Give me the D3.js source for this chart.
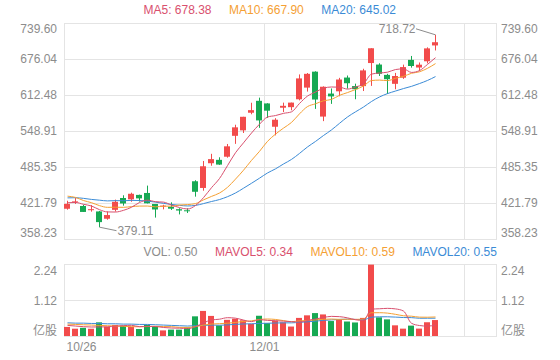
<!DOCTYPE html>
<html><head><meta charset="utf-8">
<script src="https://cdn.jsdelivr.net/npm/d3@7"></script>
<style>
body{margin:0;background:#fff}
svg{display:block}
text{font-family:"Liberation Sans",Arial,"Noto Sans CJK SC",sans-serif;font-size:12px}
</style>
</head><body>
<svg id="chart" width="560" height="360"></svg>
<script>
// ---- data ----
const opens  = [411.63,423.76,416.48,409.96,406.90,394.00,409.73,430.62,428.30,436.10,439.50,420.09,416.45,415.05,410.85,408.93,460.17,448.35,492.00,497.99,503.50,540.40,550.06,581.16,602.21,597.59,556.44,590.02,591.01,604.92,625.51,653.69,574.37,615.01,619.00,643.28,628.23,628.19,668.90,666.24,648.00,632.20,642.99,674.51,661.00,672.00,699.99];
const highs  = [425.76,430.50,418.60,418.06,407.59,406.98,427.77,435.40,440.00,436.57,452.50,420.09,418.70,423.00,412.53,412.45,462.00,496.00,508.61,502.50,526.00,559.99,574.00,598.78,607.80,597.85,571.54,598.97,599.04,648.79,651.28,654.32,627.75,624.00,642.75,646.90,632.50,658.82,695.00,668.50,649.88,651.50,666.09,681.40,669.90,696.60,718.72];
const lows   = [410.00,420.10,406.00,406.46,379.11,392.30,406.69,417.10,424.00,424.28,421.00,396.03,410.58,409.52,401.66,404.09,433.01,443.50,487.57,489.06,501.79,526.20,545.37,578.45,554.51,572.05,541.21,582.43,585.50,603.05,618.50,588.00,566.34,596.80,610.20,623.80,605.00,619.50,628.54,646.07,614.23,622.57,641.00,660.80,655.00,668.36,691.12];
const closes = [420.28,424.68,406.02,410.83,388.04,400.51,423.90,420.98,438.09,429.95,421.26,410.36,417.13,411.76,408.50,408.09,441.61,486.64,499.27,489.61,521.85,555.38,574.00,585.76,567.60,584.76,568.82,593.38,599.04,641.76,649.88,604.48,627.07,609.99,639.83,633.25,622.77,655.90,695.00,649.86,640.34,645.98,661.77,663.69,665.99,694.78,705.67];
const volumes = [0.282,0.227,0.255,0.226,0.425,0.290,0.344,0.321,0.284,0.217,0.348,0.303,0.174,0.199,0.198,0.268,0.612,0.780,0.625,0.329,0.503,0.536,0.489,0.376,0.630,0.401,0.478,0.426,0.294,0.563,0.643,0.713,0.671,0.465,0.520,0.451,0.421,0.563,2.221,0.580,0.517,0.332,0.229,0.323,0.230,0.428,0.496];

const ma5  = [422.26,422.80,419.48,416.49,409.97,406.02,405.86,408.85,414.30,422.69,426.84,424.13,423.36,418.09,413.80,411.17,417.42,431.32,448.82,465.04,487.80,510.55,528.02,545.32,560.92,573.50,576.19,580.06,582.72,597.55,610.58,617.71,624.45,626.64,626.25,622.92,626.58,632.35,649.35,651.36,652.77,657.42,658.59,652.33,655.55,666.44,678.38];
const ma10 = [433.86,431.66,426.14,422.33,417.17,414.14,414.33,414.17,415.40,416.33,416.43,414.99,416.11,416.20,418.24,419.00,420.77,427.34,433.46,439.42,449.48,463.98,479.67,497.07,512.98,530.65,543.37,554.04,564.02,579.24,592.04,596.95,602.26,604.68,611.90,616.75,622.15,628.40,637.99,638.80,637.85,642.00,645.47,650.84,653.46,659.61,667.90];
const ma20 = [430.86,431.14,429.99,428.12,426.77,425.51,426.01,425.79,426.40,426.20,425.14,423.33,421.12,419.26,417.71,416.57,417.55,420.75,424.43,427.88,432.95,439.49,447.89,456.63,465.61,474.83,482.07,490.69,498.74,509.33,520.76,530.47,540.96,550.87,562.44,573.70,582.76,591.22,601.01,609.02,614.94,619.47,623.86,627.76,632.68,638.18,645.02];

const mavol5  = [0.33,0.31,0.29,0.28,0.283,0.285,0.308,0.321,0.333,0.291,0.303,0.295,0.265,0.248,0.244,0.228,0.290,0.411,0.497,0.523,0.570,0.555,0.496,0.447,0.507,0.486,0.475,0.462,0.446,0.432,0.481,0.528,0.577,0.611,0.602,0.564,0.506,0.484,0.835,0.847,0.860,0.843,0.776,0.396,0.326,0.308,0.341];
const mavol10 = [0.37,0.36,0.35,0.34,0.33,0.32,0.31,0.30,0.29,0.287,0.294,0.301,0.293,0.291,0.268,0.266,0.292,0.338,0.372,0.384,0.399,0.422,0.454,0.472,0.515,0.528,0.515,0.479,0.446,0.470,0.484,0.501,0.520,0.528,0.517,0.522,0.517,0.530,0.723,0.725,0.712,0.674,0.630,0.616,0.587,0.584,0.592];
const mavol20 = [0.41,0.40,0.40,0.39,0.39,0.38,0.38,0.37,0.37,0.36,0.36,0.35,0.34,0.33,0.32,0.31,0.32,0.33,0.34,0.335,0.346,0.362,0.374,0.381,0.391,0.397,0.404,0.409,0.409,0.427,0.441,0.462,0.487,0.500,0.516,0.525,0.516,0.505,0.585,0.597,0.598,0.588,0.575,0.572,0.552,0.553,0.554];

const priceTicks = [358.23,421.79,485.35,548.91,612.48,676.04,739.60];
const volTicks = [0,1.12,2.24];
const volTickLabels = ["亿股","1.12","2.24"];
const xTickIdx = [0,25];
const xTickLabels = ["10/26","12/01"];
const xGridIdx = [25,50];
const slotCount = 54;

const mainLegend = ["MA5: 678.38","MA10: 667.90","MA20: 645.02"];
const volLegend = ["VOL: 0.50","MAVOL5: 0.34","MAVOL10: 0.59","MAVOL20: 0.55"];
const highLabel = "718.72", lowLabel = "379.11";

// ---- styles ----
const UP = "#f24b4b", DOWN = "#16a953";
const C5 = "#d9506e", C10 = "#f5a033", C20 = "#3b8bd6";
const GRID = "#e4e4e4", AXT = "#8c8c8c";

const svg = d3.select("#chart");
const L = 64, R = 496;
const x = d3.scaleLinear().domain([0, slotCount]).range([L, R]);
const yP = d3.scaleLinear().domain([358.23, 739.60]).range([239, 23]);
const yV = d3.scaleLinear().domain([0, 2.24]).range([336, 264]);
const idx = d3.range(closes.length);
const cx = i => x(i) + 3.5;

// grids
function panelGrid(yScale, ticks, y0, y1) {
  const g = svg.append("g");
  g.selectAll("line.h").data(ticks).join("line")
    .attr("x1", L).attr("x2", R)
    .attr("y1", d => Math.round(yScale(d)) + 0.5).attr("y2", d => Math.round(yScale(d)) + 0.5)
    .attr("stroke", GRID);
  g.selectAll("line.v").data([0, ...xGridIdx, slotCount]).join("line")
    .attr("x1", d => Math.round(x(d)) + 0.5).attr("x2", d => Math.round(x(d)) + 0.5)
    .attr("y1", y0).attr("y2", y1)
    .attr("stroke", GRID);
}
panelGrid(yP, priceTicks, Math.round(yP(739.60)), Math.round(yP(358.23)) + 1);
panelGrid(yV, volTicks, Math.round(yV(2.24)), Math.round(yV(0)) + 1);

// axes labels
function styleAxis(g, shifts) {
  g.select(".domain").remove();
  g.selectAll("line").remove();
  const n = g.selectAll("text").size();
  g.selectAll("text").attr("fill", AXT).style("font-size", "12px")
    .style("font-family", '"Liberation Sans",Arial,"Noto Sans CJK SC",sans-serif')
    .attr("transform", (d, i) => `translate(0,${shifts(i, n)})`);
}
const pShift = (i, n) => i === 0 ? -6.5 : (i === n - 1 ? 6 : 0);
const vShift = (i, n) => i === 0 ? -5.5 : (i === n - 1 ? 6.5 : 1);

svg.append("g").attr("transform", `translate(${L},0)`)
  .call(d3.axisLeft(yP).tickValues(priceTicks).tickSize(0).tickPadding(7).tickFormat(d3.format(".2f")))
  .call(g => styleAxis(g, pShift));
svg.append("g").attr("transform", `translate(${R},0)`)
  .call(d3.axisRight(yP).tickValues(priceTicks).tickSize(0).tickPadding(5).tickFormat(d3.format(".2f")))
  .call(g => styleAxis(g, pShift));
svg.append("g").attr("transform", `translate(${L},0)`)
  .call(d3.axisLeft(yV).tickValues(volTicks).tickSize(0).tickPadding(7).tickFormat((d, i) => volTickLabels[i]))
  .call(g => styleAxis(g, vShift));
svg.append("g").attr("transform", `translate(${R},0)`)
  .call(d3.axisRight(yV).tickValues(volTicks).tickSize(0).tickPadding(5).tickFormat((d, i) => volTickLabels[i]))
  .call(g => styleAxis(g, vShift));

const xa = svg.append("g").attr("transform", `translate(0,336)`)
  .call(d3.axisBottom(x).tickValues(xTickIdx).tickSize(0).tickPadding(6.5).tickFormat((d, i) => xTickLabels[i]));
xa.select(".domain").remove();
xa.selectAll("text").attr("fill", AXT).style("font-size", "12px")
  .style("font-family", '"Liberation Sans",Arial,sans-serif')
  .attr("text-anchor", (d, i) => i === 0 ? "start" : "middle")
  .attr("dx", (d, i) => i === 0 ? 2 : 0);

// candles
const cg = svg.append("g");
cg.selectAll("line.wick").data(idx).join("line")
  .attr("x1", i => cx(i)).attr("x2", i => cx(i))
  .attr("y1", i => yP(highs[i])).attr("y2", i => yP(lows[i]))
  .attr("stroke", i => closes[i] >= opens[i] ? UP : DOWN).attr("stroke-width", 1);
cg.selectAll("rect.body").data(idx).join("rect")
  .attr("x", i => x(i)).attr("width", 6)
  .attr("y", i => yP(Math.max(opens[i], closes[i])))
  .attr("height", i => Math.max(1, Math.abs(yP(opens[i]) - yP(closes[i]))))
  .attr("fill", i => closes[i] >= opens[i] ? UP : DOWN);

// MA lines
const lineP = d3.line().x((d, i) => cx(i)).y(d => yP(d)).curve(d3.curveMonotoneX);
[[ma20, C20], [ma10, C10], [ma5, C5]].forEach(([arr, c]) => {
  svg.append("path").datum(arr).attr("d", lineP).attr("fill", "none").attr("stroke", c).attr("stroke-width", 1);
});

// high / low markers
const lowIdx = d3.minIndex(lows), highIdx = d3.maxIndex(highs);
const lx = cx(lowIdx), ly = yP(lows[lowIdx]);
svg.append("line").attr("x1", lx).attr("y1", ly).attr("x2", lx + 17).attr("y2", ly + 3.5).attr("stroke", AXT);
svg.append("text").attr("x", lx + 18).attr("y", ly + 3.7).attr("dy", "0.35em").attr("fill", AXT).text(lowLabel);
const hx = cx(highIdx), hy = yP(highs[highIdx]);
svg.append("line").attr("x1", hx).attr("y1", hy).attr("x2", hx - 19.5).attr("y2", hy - 6).attr("stroke", AXT);
svg.append("text").attr("x", hx - 20).attr("y", hy - 6.3).attr("dy", "0.35em").attr("text-anchor", "end").attr("fill", AXT).text(highLabel);

// volume bars
svg.append("g").selectAll("rect").data(idx).join("rect")
  .attr("x", i => x(i)).attr("width", 6)
  .attr("y", i => yV(volumes[i])).attr("height", i => yV(0) - yV(volumes[i]))
  .attr("fill", i => closes[i] >= opens[i] ? UP : DOWN);

const lineV = d3.line().x((d, i) => cx(i)).y(d => yV(d)).curve(d3.curveMonotoneX);
[[mavol20, C20], [mavol10, C10], [mavol5, C5]].forEach(([arr, c]) => {
  svg.append("path").datum(arr).attr("d", lineV).attr("fill", "none").attr("stroke", c).attr("stroke-width", 1);
});

// legends
function legend(items, colors, x0, yc) {
  let xx = x0;
  items.forEach((t, i) => {
    const el = svg.append("text").attr("x", xx).attr("y", yc).attr("dy", "0.35em").attr("fill", colors[i]).text(t);
    xx += el.node().getComputedTextLength() + 17.5;
  });
}
legend(mainLegend, [C5, C10, C20], 143.5, 9.7);
legend(volLegend, [AXT, C5, C10, C20], 143.5, 251.8);
</script>
</body></html>
